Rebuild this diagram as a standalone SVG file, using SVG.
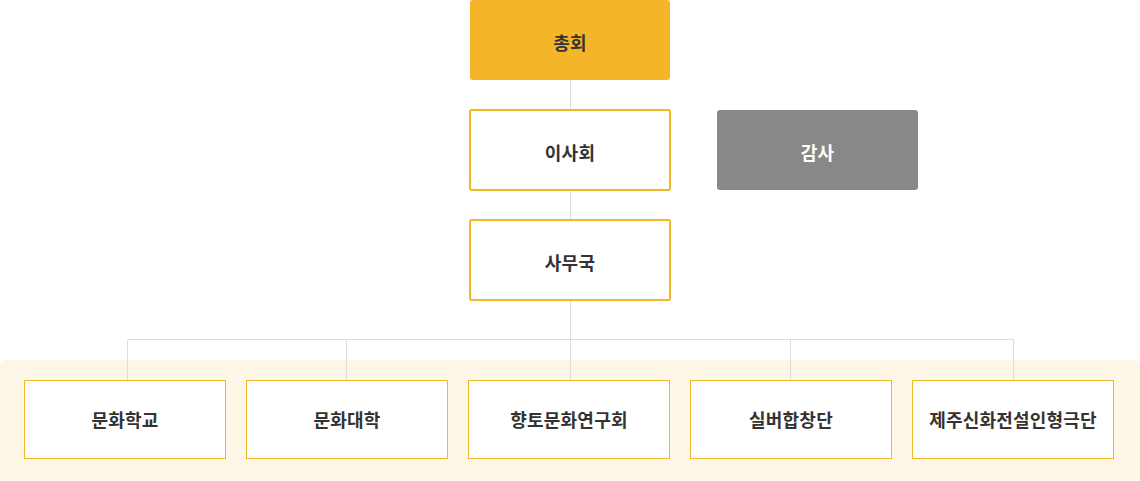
<svg xmlns="http://www.w3.org/2000/svg" width="1140" height="481" viewBox="0 0 1140 481">
<style>
.t{font-family:"Noto Sans CJK KR","Noto Sans",sans-serif;font-size:18px;font-weight:700;fill:#333333;text-anchor:middle;dominant-baseline:central;letter-spacing:0.2px}
.w{fill:#ffffff}
.box{fill:#ffffff;stroke:#F4B528;stroke-width:2}
.sub{fill:#ffffff;stroke:#F4B528;stroke-width:1}
.ln{stroke:#DDDDDD;stroke-width:1;fill:none}
</style>
<rect x="0" y="360" width="1140" height="121" rx="6" fill="#FEF6E7"/>
<g id="connectors">
<path class="ln" d="M570.5 80V110M570.5 190V220M570.5 300V380M127.5 339.5H1013.5M127.5 339.5V380M346.5 339.5V380M790.5 339.5V380M1013.5 339.5V380"/>
</g>
<g id="n-chonghoe"><rect x="470" y="0" width="200" height="80" rx="3" fill="#F4B528"/><text class="t" x="570" y="42">총회</text></g>
<g id="n-isahoe"><rect class="box" x="470" y="110" width="200" height="80" rx="2"/><text class="t" x="570" y="152">이사회</text></g>
<g id="n-gamsa"><rect x="717" y="110" width="201" height="80" rx="3" fill="#888888"/><text class="t w" x="817.5" y="152">감사</text></g>
<g id="n-samuguk"><rect class="box" x="470" y="220" width="200" height="80" rx="2"/><text class="t" x="570" y="262">사무국</text></g>
<g id="n-1"><rect class="sub" x="24.5" y="380.5" width="201" height="78"/><text class="t" x="125" y="419">문화학교</text></g>
<g id="n-2"><rect class="sub" x="246.5" y="380.5" width="201" height="78"/><text class="t" x="347" y="419">문화대학</text></g>
<g id="n-3"><rect class="sub" x="468.5" y="380.5" width="201" height="78"/><text class="t" x="569" y="419">향토문화연구회</text></g>
<g id="n-4"><rect class="sub" x="690.5" y="380.5" width="201" height="78"/><text class="t" x="791" y="419">실버합창단</text></g>
<g id="n-5"><rect class="sub" x="912.5" y="380.5" width="201" height="78"/><text class="t" x="1013" y="419">제주신화전설인형극단</text></g>
</svg>
